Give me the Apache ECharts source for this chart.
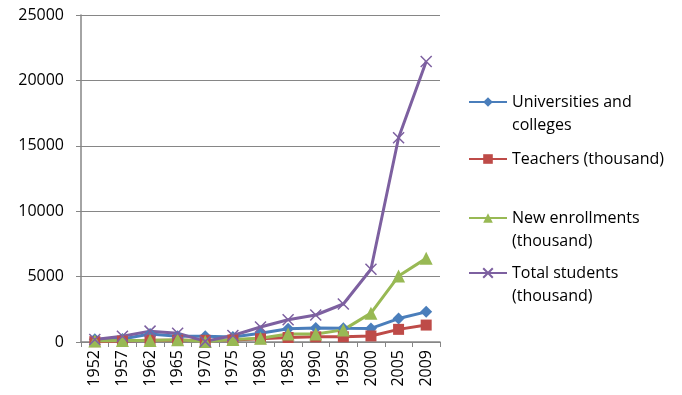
<!DOCTYPE html>
<html>
<head>
<meta charset="utf-8">
<script src="https://cdn.jsdelivr.net/npm/echarts@6/dist/echarts.min.js"></script>
<style>
  html, body { margin: 0; padding: 0; background: #fff; }
  #main { width: 682px; height: 395px; }
</style>
</head>
<body>
<div id="main"></div>
<script>
const years = ['1952', '1957', '1962', '1965', '1970', '1975', '1980', '1985', '1990', '1995', '2000', '2005', '2009'];
const universities = [201, 229, 610, 434, 434, 387, 675, 1016, 1075, 1054, 1041, 1792, 2305];
const teachers = [27, 70, 139, 138, 129, 156, 247, 344, 395, 401, 463, 966, 1295];
const enrollments = [79, 106, 107, 164, 42, 191, 281, 619, 609, 926, 2206, 5044, 6394];
const students = [191, 441, 830, 674, 48, 501, 1144, 1703, 2063, 2906, 5561, 15618, 21447];

const chart = echarts.init(document.getElementById('main'));
const font = 'Open Sans';
const crossPath = 'path://M0,0 L10,10 M10,0 L0,10';

// one legend per item so the uneven vertical spacing can be matched
function makeLegend(name, top, twoLines) {
    return {
        data: [name],
        left: 468,
        top: top,
        orient: 'vertical',
        padding: 0,
        itemWidth: 38,
        itemHeight: 12,
        itemGap: 5,
        selectedMode: false,
        formatter: function (n) {
            // blank first line keeps the icon level with the first text line
            return twoLines ? ' \n' + n : n;
        },
        textStyle: {
            fontFamily: font,
            fontSize: 16,
            color: '#000',
            lineHeight: 23
        }
    };
}

function lineSeries(name, data, color, symbol, size) {
    return {
        name: name,
        type: 'line',
        data: data,
        symbol: symbol,
        symbolSize: size,
        showSymbol: true,
        animation: false,
        lineStyle: { width: 3, color: color },
        itemStyle: { color: color, borderColor: color, borderWidth: symbol === crossPath ? 1.5 : 0 }
    };
}

const option = {
    backgroundColor: '#fff',
    animation: false,
    grid: { left: 81, right: 242, top: 15, bottom: 53 },
    legend: [
        makeLegend('Universities and\ncolleges', 67.5, true),
        makeLegend('Teachers (thousand)', 147.5, false),
        makeLegend('New enrollments\n(thousand)', 183.5, true),
        makeLegend('Total students\n(thousand)', 238.5, true)
    ],
    xAxis: {
        type: 'category',
        data: years,
        boundaryGap: true,
        axisLine: { lineStyle: { color: '#868686', width: 1.5 } },
        axisTick: { show: true, interval: 0, length: 5, lineStyle: { color: '#868686' } },
        axisLabel: {
            interval: 0,
            rotate: 90,
            margin: 8,
            fontFamily: font,
            fontSize: 16,
            color: '#000'
        }
    },
    yAxis: {
        type: 'value',
        min: 0,
        max: 25000,
        interval: 5000,
        axisLine: { show: true, lineStyle: { color: '#868686', width: 1.5 } },
        axisTick: { show: true, length: 5, lineStyle: { color: '#868686' } },
        splitLine: { lineStyle: { color: '#868686', width: 1 } },
        axisLabel: {
            margin: 17,
            fontFamily: font,
            fontSize: 16,
            color: '#000',
            formatter: function (v) {
                return String(v);
            }
        }
    },
    series: [
        lineSeries('Universities and\ncolleges', universities, '#4A7EBB', 'diamond', 12),
        lineSeries('Teachers (thousand)', teachers, '#BE4B48', 'rect', 11),
        lineSeries('New enrollments\n(thousand)', enrollments, '#98B954', 'triangle', 13),
        lineSeries('Total students\n(thousand)', students, '#7D60A0', crossPath, 11)
    ]
};

chart.setOption(option);
</script>
</body>
</html>
